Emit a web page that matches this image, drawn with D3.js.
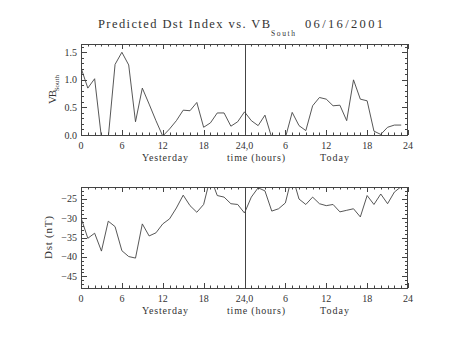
<!DOCTYPE html>
<html><head><meta charset="utf-8">
<script src="https://cdn.jsdelivr.net/npm/d3@7"></script>
<style>
body{margin:0;background:#fff;}
svg{display:block;}
text{font-family:"Liberation Serif","DejaVu Serif",serif;fill:#333;}
</style></head><body>
<svg id="c" width="454" height="341"></svg>
<script>
// hours 0..47 (yesterday 0-23, today 24-47)
const hours = d3.range(0,48);
const vbSouth = [1.22,0.85,1.02,-0.05,-0.05,1.28,1.50,1.27,0.24,0.85,0.56,0.26,-0.02,0.11,0.26,0.45,
                 0.44,0.59,0.14,0.22,0.40,0.40,0.16,0.24,0.42,0.26,0.17,0.36,-0.05,-0.05,-0.05,0.41,
                 0.17,0.08,0.53,0.68,0.65,0.53,0.54,0.26,1.00,0.65,0.62,0.07,0.01,0.14,0.18,0.18];
const dst = [-29.9,-35.2,-33.9,-38.5,-30.8,-32.2,-38.4,-39.9,-40.3,-31.5,-34.6,-33.8,-31.5,-30.2,-27.4,-24.1,
             -26.8,-28.5,-26.5,-19.5,-24.2,-24.6,-26.3,-26.5,-28.7,-24.6,-22.2,-23.0,-28.2,-27.6,-26.1,-19.0,
             -25.1,-26.5,-24.6,-26.3,-26.8,-26.5,-28.4,-28.0,-27.6,-29.7,-24.2,-26.5,-23.8,-26.3,-23.3,-21.9];
const xTickVals = [0,6,12,18,24,30,36,42,48];
const xTickLabels = ["0","6","12","18","24,0","6","12","18","24"];
const vbTicks = [0,0.5,1.0,1.5];
const dstTicks = [-25,-30,-35,-40,-45];

const svg = d3.select("#c");
const L=81,R=408;
const x = d3.scaleLinear().domain([0,48]).range([L,R]);
const panels = [
  {top:44,bottom:135,domain:[0,1.65],data:vbSouth,ticks:vbTicks,fmt:d3.format(".1f"),minor:0.1,id:"p1"},
  {top:187,bottom:288,domain:[-48,-22],data:dst,ticks:dstTicks,fmt:d=>String(d).replace("-","\u2212"),minor:1,id:"p2"}
];
const col="#444";
panels.forEach(p=>{
  const y = d3.scaleLinear().domain(p.domain).range([p.bottom,p.top]);
  const g = svg.append("g");
  svg.append("clipPath").attr("id",p.id).append("rect")
    .attr("x",L).attr("y",p.top).attr("width",R-L).attr("height",p.bottom-p.top);
  g.append("rect").attr("x",L+0.5).attr("y",p.top+0.5).attr("width",R-L-1).attr("height",p.bottom-p.top)
    .attr("fill","none").attr("stroke",col).attr("stroke-width",1);
  d3.range(0,49).forEach(h=>{
    const len = (h%6===0)?5:2.5;
    const xx = Math.round(x(h))+0.5;
    g.append("line").attr("x1",xx).attr("x2",xx).attr("y1",p.bottom).attr("y2",p.bottom-len).attr("stroke",col);
    g.append("line").attr("x1",xx).attr("x2",xx).attr("y1",p.top).attr("y2",p.top+len).attr("stroke",col);
  });
  const minorY = d3.range(Math.ceil(p.domain[0]/p.minor), Math.floor(p.domain[1]/p.minor)+1).map(k=>+(k*p.minor).toFixed(3));
  minorY.forEach(v=>{
    const major = p.ticks.some(t=>Math.abs(t-v)<1e-6);
    const len = major?6:3;
    const yy = Math.round(y(v))+0.5;
    g.append("line").attr("x1",L).attr("x2",L+len).attr("y1",yy).attr("y2",yy).attr("stroke",col);
    g.append("line").attr("x1",R).attr("x2",R-len).attr("y1",yy).attr("y2",yy).attr("stroke",col);
  });
  g.selectAll(".yl").data(p.ticks).enter().append("text")
    .attr("x",77).attr("y",d=>y(d)+3.5).attr("text-anchor","end").attr("font-size",10).text(p.fmt);
  g.selectAll(".xl").data(xTickVals).enter().append("text")
    .attr("x",d=>x(d)).attr("y",p.bottom+14).attr("text-anchor","middle").attr("font-size",10)
    .text((d,i)=>xTickLabels[i]);
  g.append("text").attr("x",165).attr("y",p.bottom+26).attr("text-anchor","middle").attr("font-size",10)
    .attr("textLength",46).attr("lengthAdjust","spacing").text("Yesterday");
  g.append("text").attr("x",256).attr("y",p.bottom+26).attr("text-anchor","middle").attr("font-size",10)
    .attr("textLength",58).attr("lengthAdjust","spacing").text("time (hours)");
  g.append("text").attr("x",334.5).attr("y",p.bottom+26).attr("text-anchor","middle").attr("font-size",10)
    .attr("textLength",29).attr("lengthAdjust","spacing").text("Today");
  g.append("line").attr("x1",Math.round(x(24))+0.5).attr("x2",Math.round(x(24))+0.5).attr("y1",p.top).attr("y2",p.bottom).attr("stroke",col);
  const line = d3.line().x((d,i)=>x(hours[i])).y(d=>y(d));
  g.append("path").attr("clip-path",`url(#${p.id})`).datum(p.data).attr("d",line)
    .attr("fill","none").attr("stroke",col).attr("stroke-width",0.9);
});

// y labels
const yl1 = svg.append("text").attr("transform",`translate(56,${(44+135)/2}) rotate(-90)`).attr("text-anchor","middle").attr("font-size",11);
yl1.append("tspan").attr("textLength",14).attr("lengthAdjust","spacing").text("VB");
yl1.append("tspan").attr("font-size",7).attr("dy",3).text("South");
svg.append("text").attr("transform",`translate(52,${(187+288)/2}) rotate(-90)`).attr("text-anchor","middle").attr("font-size",11)
  .attr("textLength",43).attr("lengthAdjust","spacing").text("Dst (nT)");

// title
svg.append("text").attr("x",98).attr("y",28).attr("font-size",12.5)
  .attr("textLength",172).attr("lengthAdjust","spacing").text("Predicted Dst Index vs. VB");
svg.append("text").attr("x",271).attr("y",36).attr("font-size",7.5)
  .attr("textLength",24).attr("lengthAdjust","spacing").text("South");
svg.append("text").attr("x",305).attr("y",28).attr("font-size",12.5)
  .attr("textLength",78).attr("lengthAdjust","spacing").text("06/16/2001");
</script></body></html>
